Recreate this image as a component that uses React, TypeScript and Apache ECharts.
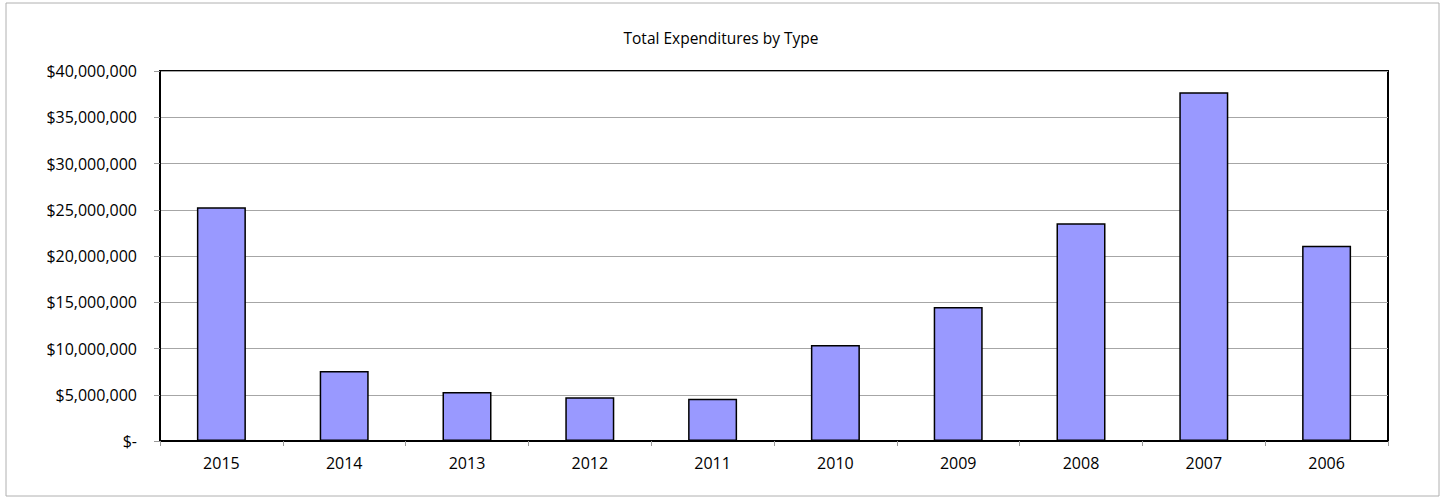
import React, { useEffect, useRef } from "react";
import * as echarts from "echarts";

const title = "Total Expenditures by Type";
const years = ["2015", "2014", "2013", "2012", "2011", "2010", "2009", "2008", "2007", "2006"];
const expenditures = [25270000, 7560000, 5290000, 4720000, 4570000, 10370000, 14500000, 23540000, 37700000, 21100000];
const yMin = 0;
const yMax = 40000000;
const yStep = 5000000;

const fontFamily = "'Open Sans', Lato, sans-serif";

function fmt(v: number): string {
  if (v === 0) return "$-";
  return "$" + v.toString().replace(/\B(?=(\d{3})+(?!\d))/g, ",");
}

export default function App() {
  const ref = useRef<HTMLDivElement>(null);
  useEffect(() => {
    if (!ref.current) return;
    const chart = echarts.init(ref.current, null, { renderer: "svg" });
    chart.setOption({
      animation: false,
      backgroundColor: "#ffffff",
      title: {
        text: title,
        left: 716,
        top: 25,
        textAlign: "center",
        textStyle: { fontFamily, fontSize: 15.5, fontWeight: "normal", color: "#000" },
      },
      graphic: [
        {
          type: "rect",
          shape: { x: 6, y: 3, width: 1433, height: 493 },
          style: { fill: "none", stroke: "#b0b0b0", lineWidth: 1 },
          silent: true,
        },
      ],
      grid: {
        left: 160,
        right: 57,
        top: 71,
        bottom: 58,
        show: true,
        borderColor: "#000",
        borderWidth: 2,
        containLabel: false,
      },
      xAxis: {
        type: "category",
        data: years,
        boundaryGap: true,
        axisLine: { show: true, lineStyle: { color: "#000", width: 2 } },
        axisTick: { show: true, length: 5, alignWithLabel: false, lineStyle: { color: "#999" } },
        axisLabel: { fontFamily, fontSize: 16, color: "#000", margin: 14 },
      },
      yAxis: {
        type: "value",
        min: yMin,
        max: yMax,
        interval: yStep,
        axisLine: { show: true, lineStyle: { color: "#000", width: 2 } },
        axisTick: { show: true, length: 6, lineStyle: { color: "#999" } },
        splitLine: { show: true, lineStyle: { color: "#a6a6a6", width: 1 } },
        axisLabel: { fontFamily, fontSize: 16, color: "#000", margin: 23, formatter: (v: number) => fmt(v) },
      },
      series: [
        {
          type: "bar",
          data: expenditures,
          barWidth: 49,
          itemStyle: { color: "#9999FF", borderColor: "#000", borderWidth: 1.5 },
        },
      ],
    });
    return () => chart.dispose();
  }, []);
  return (
    <div
      ref={ref}
      style={{ position: "fixed", left: 0, top: 0, width: 1445, height: 499 }}
    />
  );
}
